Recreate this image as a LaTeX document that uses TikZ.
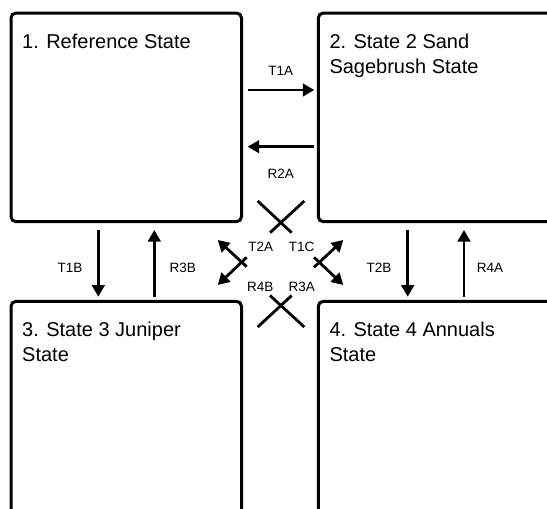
\documentclass[tikz,border=0pt]{standalone}
\usepackage{fontspec}
\setmainfont{Liberation Sans}
\usetikzlibrary{arrows.meta}
\begin{document}
\begin{tikzpicture}[x=1pt,y=-1pt,
  statebox/.style={draw=black, line width=3pt, rounded corners=5pt, inner sep=0pt, outer sep=0pt, anchor=north west},
  title/.style={anchor=north west, inner sep=0pt, align=left, font=\fontsize{20}{25}\selectfont},
  lbl/.style={inner sep=0pt, font=\fontsize{13.5}{16}\selectfont},
  arr/.style={line width=2.8pt, -{Triangle[length=11.5pt,width=12.5pt]}},
  xline/.style={line width=2.8pt}]
\useasboundingbox (0,0) rectangle (547,509);
\clip (0,0) rectangle (547,509);
% boxes
\node[statebox, minimum width=230.5pt, minimum height=208.7pt] (b1) at (11,13) {};
\node[statebox, minimum width=300pt, minimum height=208.7pt] (b2) at (318.3,13) {};
\node[statebox, minimum width=230.5pt, minimum height=300pt] (b3) at (11,301.3) {};
\node[statebox, minimum width=300pt, minimum height=300pt] (b4) at (318.3,301.3) {};
% titles
\node[title] (t1) at ([xshift=11pt,yshift=-20.5pt]b1.north west) {1. Reference State};
\node[title] (t2) at ([xshift=11pt,yshift=-20.5pt]b2.north west) {2. State 2 Sand\\Sagebrush State};
\node[title] (t3) at ([xshift=11pt,yshift=-20.5pt]b3.north west) {3. State 3 Juniper\\State};
\node[title] (t4) at ([xshift=11pt,yshift=-20.5pt]b4.north west) {4. State 4 Annuals\\State};
% arrow end points
\coordinate (a1s) at (247.7,90);   \coordinate (a1e) at (314.3,90);
\coordinate (a2s) at (314.3,146.7); \coordinate (a2e) at (247.7,146.7);
\coordinate (v1s) at (98.3,230);  \coordinate (v1e) at (98.3,296.7);
\coordinate (v2s) at (154.3,296.7); \coordinate (v2e) at (154.3,230);
\coordinate (v3s) at (407.7,230);  \coordinate (v3e) at (407.7,296.7);
\coordinate (v4s) at (464,296.7); \coordinate (v4e) at (464,230);
\coordinate (d1s) at (246.7,266.7); \coordinate (d1e) at (217.7,240);
\coordinate (d2s) at (246.7,257.3); \coordinate (d2e) at (217.7,285);
\coordinate (d3s) at (314,267.3); \coordinate (d3e) at (343.3,240);
\coordinate (d4s) at (314,257.3); \coordinate (d4e) at (343.3,285);
\coordinate (x1a) at (257.7,201); \coordinate (x1b) at (291.7,232.7);
\coordinate (x2a) at (304.3,201); \coordinate (x2b) at (270,232.7);
\coordinate (x3a) at (257.7,327); \coordinate (x3b) at (291.7,295.5);
\coordinate (x4a) at (304.3,327); \coordinate (x4b) at (270,295.5);
% arrows
\draw[arr] (a1s) -- (a1e);
\draw[arr] (a2s) -- (a2e);
\draw[arr] (v1s) -- (v1e);
\draw[arr] (v2s) -- (v2e);
\draw[arr] (v3s) -- (v3e);
\draw[arr] (v4s) -- (v4e);
\draw[arr] (d1s) -- (d1e);
\draw[arr] (d2s) -- (d2e);
\draw[arr] (d3s) -- (d3e);
\draw[arr] (d4s) -- (d4e);
\draw[xline] (x1a) -- (x1b);
\draw[xline] (x2a) -- (x2b);
\draw[xline] (x3a) -- (x3b);
\draw[xline] (x4a) -- (x4b);
% labels
\node[lbl] (lT1A) at (280.7,71) {T1A};
\node[lbl] (lR2A) at (280.7,173.3) {R2A};
\node[lbl] (lT1B) at (70,268) {T1B};
\node[lbl] (lR3B) at (182.7,268) {R3B};
\node[lbl] (lT2B) at (379,268) {T2B};
\node[lbl] (lR4A) at (490,268) {R4A};
\node[lbl] (lT2A) at (260.7,247) {T2A};
\node[lbl] (lR4B) at (260.3,287) {R4B};
\node[lbl] (lT1C) at (301.7,247) {T1C};
\node[lbl] (lR3A) at (301.7,287) {R3A};
\end{tikzpicture}
\end{document}
